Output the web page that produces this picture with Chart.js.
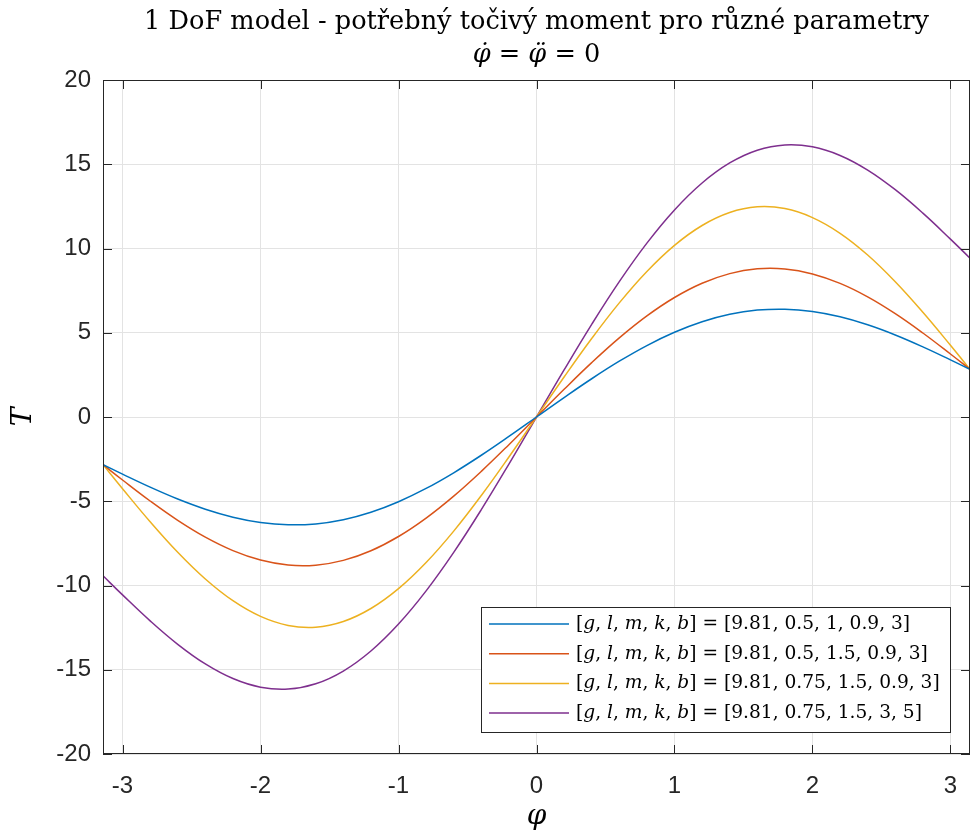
<!DOCTYPE html>
<html>
<head>
<meta charset="utf-8">
<script src="https://cdn.jsdelivr.net/npm/chart.js@4"></script>
<style>
html, body { margin: 0; padding: 0; background: #fff; }
</style>
</head>
<body>
<canvas id="myChart" width="971" height="836"></canvas>
<script>
// phi values (x axis)
const phi = [-3.1416, -3.0, -2.8, -2.6, -2.4, -2.2, -2.0, -1.8, -1.6, -1.4, -1.2, -1.0, -0.8, -0.6, -0.4, -0.2,
  0, 0.2, 0.4, 0.6, 0.8, 1.0, 1.2, 1.4, 1.6, 1.8, 2.0, 2.2, 2.4, 2.6, 2.8, 3.0, 3.1416];

// torque T for each parameter set
const T1 = [-2.827, -3.392, -4.163, -4.869, -5.473, -5.946, -6.260, -6.397, -6.343, -6.094, -5.652, -5.027, -4.239, -3.310, -2.270, -1.154,
  0, 1.154, 2.270, 3.310, 4.239, 5.027, 5.652, 6.094, 6.343, 6.397, 6.260, 5.946, 5.473, 4.869, 4.163, 3.392, 2.827];
const T2 = [-2.827, -3.738, -4.985, -6.133, -7.130, -7.929, -8.490, -8.785, -8.794, -8.510, -7.938, -7.091, -5.998, -4.694, -3.225, -1.642,
  0, 1.642, 3.225, 4.694, 5.998, 7.091, 7.938, 8.510, 8.794, 8.785, 8.490, 7.929, 7.130, 6.133, 4.985, 3.738, 2.827];
const T3 = [-2.827, -4.257, -6.217, -8.029, -9.615, -10.903, -11.835, -12.368, -12.472, -12.136, -11.366, -10.187, -8.637, -6.772, -4.658, -2.373,
  0, 2.373, 4.658, 6.772, 8.637, 10.187, 11.366, 12.136, 12.472, 12.368, 11.835, 10.903, 9.615, 8.029, 6.217, 4.257, 2.827];
const T4 = [-9.425, -10.557, -12.097, -13.489, -14.655, -15.523, -16.035, -16.148, -15.832, -15.076, -13.886, -12.287, -10.317, -8.032, -5.498, -2.793,
  0, 2.793, 5.498, 8.032, 10.317, 12.287, 13.886, 15.076, 15.832, 16.148, 16.035, 15.523, 14.655, 13.489, 12.097, 10.557, 9.425];

const paramValues = ["9.81, 0.5, 1, 0.9, 3", "9.81, 0.5, 1.5, 0.9, 3", "9.81, 0.75, 1.5, 0.9, 3", "9.81, 0.75, 1.5, 3, 5"];
const colors = ["#0072BD", "#D95319", "#EDB120", "#7E2F8E"];
const xTicks = [-3, -2, -1, 0, 1, 2, 3];
const yTicks = [-20, -15, -10, -5, 0, 5, 10, 15, 20];

const titleText = "1 DoF model - potřebný točivý moment pro různé parametry";
const axisCol = "#262626";
const serif = "'DejaVu Serif'";

function pts(ys) { return phi.map((x, i) => ({ x: x, y: ys[i] })); }

// draws a list of [text, italic] pieces starting at x
function drawPieces(ctx, pieces, x, y, size) {
  pieces.forEach(p => {
    ctx.font = (p[1] ? "italic " : "") + size + "px " + serif;
    ctx.fillText(p[0], x, y);
    x += ctx.measureText(p[0]).width;
  });
  return x;
}
function piecesWidth(ctx, pieces, size) {
  let w = 0;
  pieces.forEach(p => {
    ctx.font = (p[1] ? "italic " : "") + size + "px " + serif;
    w += ctx.measureText(p[0]).width;
  });
  return w;
}
function legendPieces(vals) {
  return [["[", 0], ["g", 1], [", ", 0], ["l", 1], [", ", 0], ["m", 1], [", ", 0], ["k", 1], [", ", 0], ["b", 1], ["] = [" + vals + "]", 0]];
}

const decor = {
  id: "decor",
  afterDraw(chart) {
    const ctx = chart.ctx;
    const a = chart.chartArea;
    const xs = chart.scales.x, ys = chart.scales.y;
    ctx.save();

    // box + inward ticks
    ctx.strokeStyle = axisCol;
    ctx.lineWidth = 1;
    ctx.strokeRect(a.left + 0.5, a.top + 0.5, a.right - a.left - 1, a.bottom - a.top - 1);
    ctx.beginPath();
    xTicks.forEach(v => {
      const px = Math.round(xs.getPixelForValue(v)) + 0.5;
      ctx.moveTo(px, a.bottom); ctx.lineTo(px, a.bottom - 9);
      ctx.moveTo(px, a.top); ctx.lineTo(px, a.top + 9);
    });
    yTicks.forEach(v => {
      const py = Math.round(ys.getPixelForValue(v)) + 0.5;
      ctx.moveTo(a.left, py); ctx.lineTo(a.left + 9, py);
      ctx.moveTo(a.right, py); ctx.lineTo(a.right - 9, py);
    });
    ctx.stroke();

    // title
    ctx.fillStyle = "#000";
    ctx.textBaseline = "middle";
    ctx.textAlign = "center";
    let ts = 24;
    ctx.font = ts + "px " + serif;
    ts = ts * 785 / ctx.measureText(titleText).width;
    ctx.font = ts + "px " + serif;
    const cx = (a.left + a.right) / 2;
    ctx.fillText(titleText, cx, 22);
    ctx.textAlign = "left";
    const sub = [["\u03C6\u0307", 1], [" = ", 0], ["\u03C6\u0308", 1], [" = 0", 0]];
    const sw = piecesWidth(ctx, sub, ts);
    drawPieces(ctx, sub, cx - sw / 2, 55, ts);

    // axis labels
    ctx.textAlign = "center";
    ctx.font = "italic 28px " + serif;
    ctx.fillText("\u03C6", cx, 817);
    ctx.save();
    ctx.translate(24, (a.top + a.bottom) / 2);
    ctx.rotate(-Math.PI / 2);
    ctx.fillText("T", 0, 0);
    ctx.restore();

    // legend
    const lx = 481, ly = 607, lw = 469, lh = 125;
    ctx.fillStyle = "#fff";
    ctx.fillRect(lx, ly, lw, lh);
    ctx.strokeStyle = axisCol;
    ctx.strokeRect(lx + 0.5, ly + 0.5, lw, lh);
    let fs = 20;
    fs = fs * 364 / piecesWidth(ctx, legendPieces(paramValues[2]), fs);
    ctx.textAlign = "left";
    paramValues.forEach((vals, i) => {
      const ry = 624 + i * 29.7;
      ctx.strokeStyle = colors[i];
      ctx.lineWidth = 1.5;
      ctx.beginPath();
      ctx.moveTo(489, ry); ctx.lineTo(569, ry);
      ctx.stroke();
      ctx.fillStyle = "#000";
      drawPieces(ctx, legendPieces(vals), 576, ry, fs);
    });
    ctx.restore();
  }
};

const tickFont = { family: "'Liberation Sans', Arial, sans-serif", size: 24 };

new Chart(document.getElementById("myChart").getContext("2d"), {
  type: "line",
  data: {
    datasets: [T1, T2, T3, T4].map((ys, i) => ({
      label: paramValues[i],
      data: pts(ys),
      borderColor: colors[i],
      backgroundColor: colors[i],
      borderWidth: 1.5,
      pointRadius: 0,
      tension: 0.4,
      fill: false
    }))
  },
  options: {
    responsive: false,
    animation: false,
    devicePixelRatio: 1,
    layout: { padding: { top: 80, right: 1, left: 0, bottom: 0 } },
    plugins: { legend: { display: false }, title: { display: false }, tooltip: { enabled: false } },
    scales: {
      x: {
        type: "linear",
        min: -Math.PI,
        max: Math.PI,
        afterBuildTicks: s => { s.ticks = xTicks.map(v => ({ value: v })); },
        afterFit: s => { s.height = 82; s.paddingLeft = 0; s.paddingRight = 0; },
        grid: { color: "#e3e3e3", drawTicks: false },
        border: { display: false },
        ticks: { font: tickFont, color: axisCol, padding: 18, maxRotation: 0 }
      },
      y: {
        min: -20,
        max: 20,
        afterBuildTicks: s => { s.ticks = yTicks.map(v => ({ value: v })); },
        afterFit: s => { s.width = 103; s.paddingTop = 0; s.paddingBottom = 0; },
        grid: { color: "#e3e3e3", drawTicks: false },
        border: { display: false },
        ticks: { font: tickFont, color: axisCol, padding: 12 }
      }
    }
  },
  plugins: [decor]
});
</script>
</body>
</html>
